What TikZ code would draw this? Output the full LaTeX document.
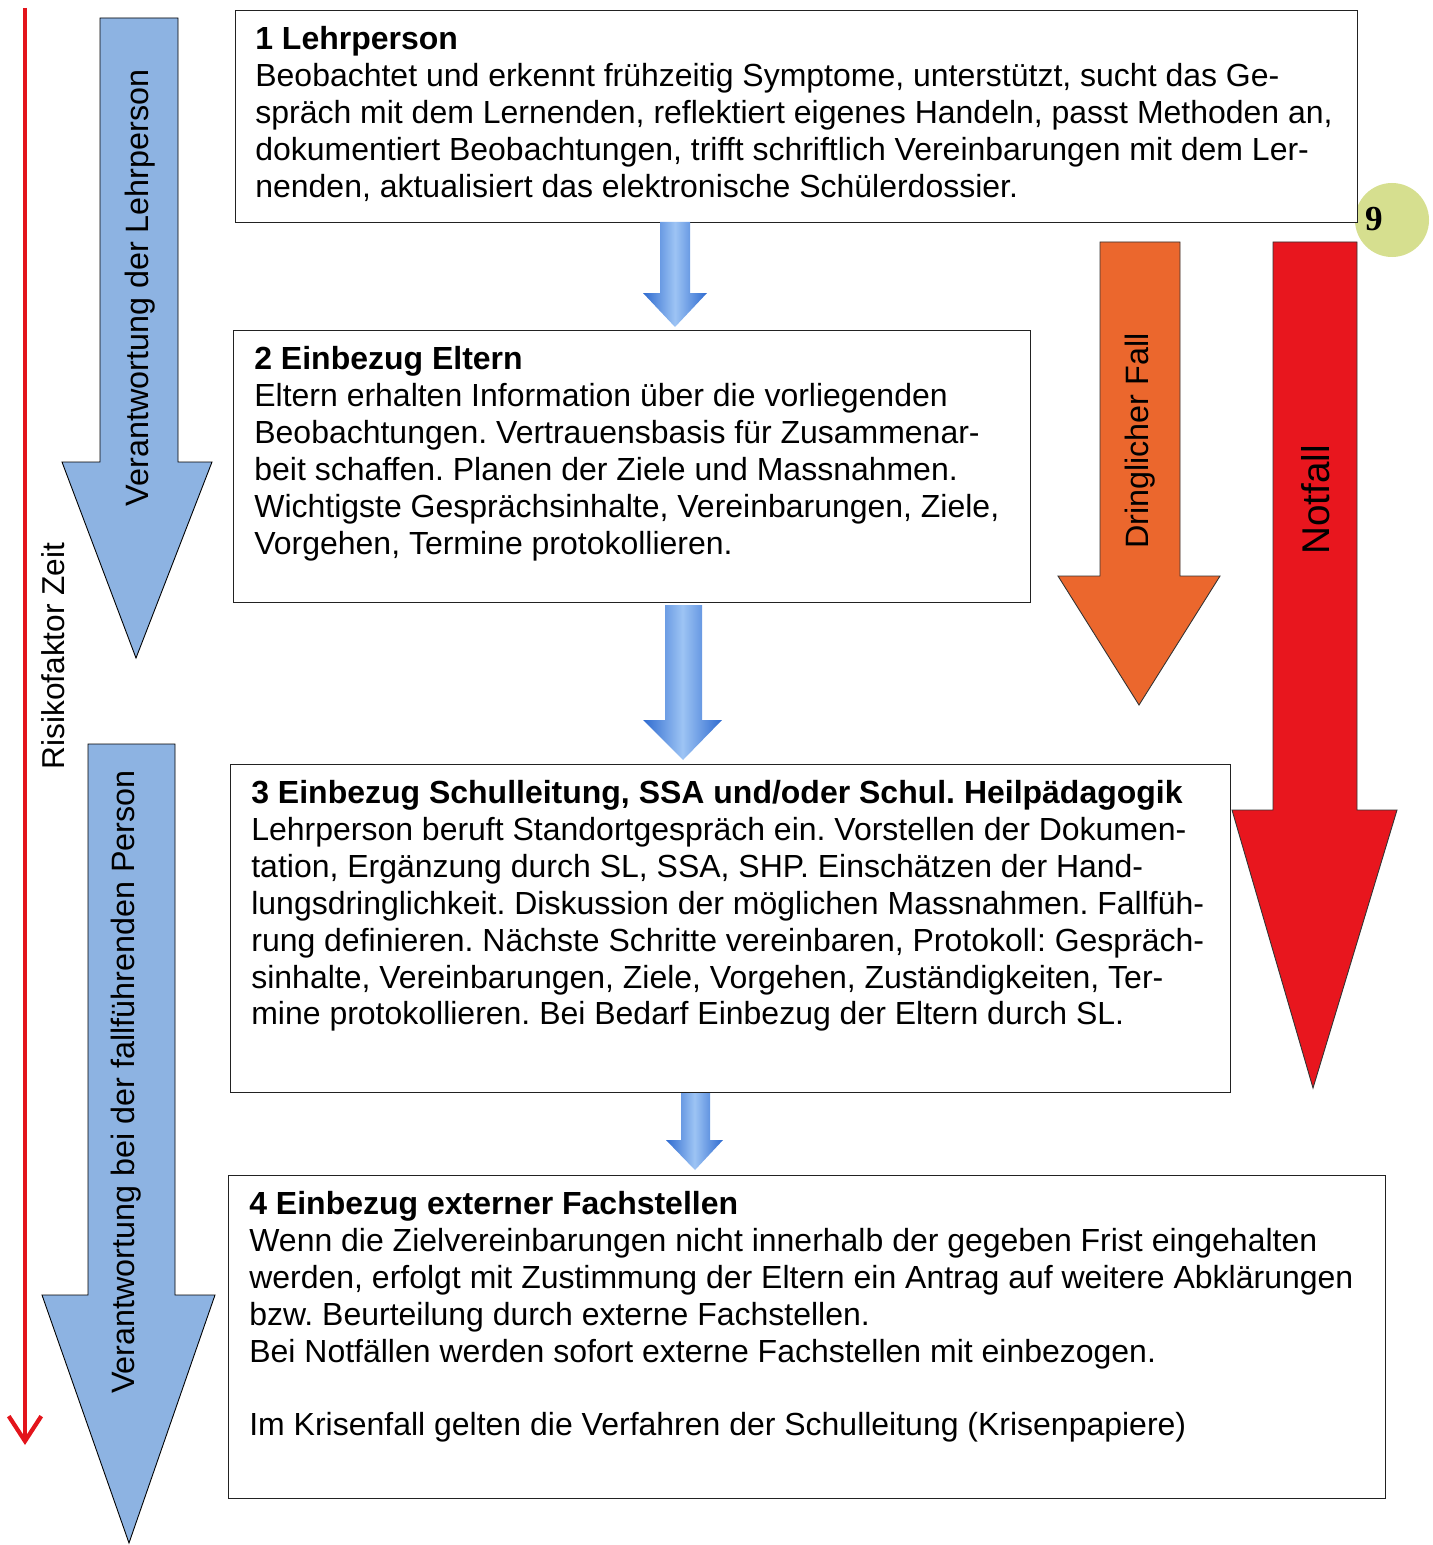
\documentclass[tikz,border=0pt]{standalone}
\usepackage{fontspec}
\setmainfont{Liberation Sans}
\newfontfamily\numfont{Liberation Serif}
\usepackage{tikz}
\usetikzlibrary{arrows.meta,positioning}
\frenchspacing
\definecolor{boxline}{HTML}{222222}
\definecolor{lightarrow}{HTML}{8DB3E2}
\definecolor{urgent}{HTML}{EB672D}
\definecolor{emergency}{HTML}{E8161E}
\definecolor{timeline}{HTML}{E3141B}
\definecolor{stepdark}{HTML}{2F6BD0}
\definecolor{steplight}{HTML}{9DC4F4}
\definecolor{badge}{HTML}{D6DF8F}
\tikzset{
  stagebox/.style={
    draw=boxline, line width=0.7pt, fill=white, anchor=north west, inner sep=0pt
  },
  stagetext/.style={
    anchor=north west, inner sep=0pt, align=left, font=\fontsize{18.2}{21}\selectfont
  },
  bigarrow/.style={draw=black, line width=0.5pt, fill=lightarrow},
  urgentarrow/.style={draw=black!80, line width=0.5pt, fill=urgent},
  emergencyarrow/.style={draw=black!80, line width=0.5pt, fill=emergency},
  steparrow/.style={left color=stepdark, right color=stepdark, middle color=steplight},
  sidelabel/.style={rotate=90, inner sep=0pt, font=\fontsize{18.4}{21}\selectfont},
  timearrow/.style={-{Straight Barb[length=5mm,width=6.5mm]}, line width=2.4pt, timeline},
}

\begin{document}
\begin{tikzpicture}[x=0.2mm, y=-0.2mm]
    \useasboundingbox (0,0) rectangle (1432,1545);

    \coordinate (ttop) at (25,8);
    \coordinate (tend) at (25,1445);
    \draw[timearrow] (ttop) -- (tend);
    \node[sidelabel, font=\fontsize{18}{21}\selectfont] (risk) at (53,656) {Risikofaktor Zeit};

    \draw[bigarrow] (100,18) -- (178,18) -- (178,462) -- (212,462) -- (136,658)
                    -- (62,462) -- (100,462) -- cycle;
    \draw[bigarrow] (88,744) -- (175,744) -- (175,1295) -- (215,1295) -- (129,1543)
                    -- (42,1295) -- (88,1295) -- cycle;
    \draw[urgentarrow] (1100,242) -- (1180,242) -- (1180,576) -- (1220,576) -- (1139,705)
                       -- (1058,576) -- (1100,576) -- cycle;
    \draw[emergencyarrow] (1273,242) -- (1357,242) -- (1357,810) -- (1397,810) -- (1313,1088)
                          -- (1232,810) -- (1273,810) -- cycle;

    \node[sidelabel] (resp1) at (140,288) {Verantwortung der Lehrperson};
    \node[sidelabel] (resp2) at (126,1082) {Verantwortung bei der fallführenden Person};
    \node[sidelabel] (urgentlbl) at (1140,441) {Dringlicher Fall};
    \node[sidelabel, font=\fontsize{22}{24}\selectfont] (emerglbl) at (1316,500) {Notfall};

    \node[circle, fill=badge, minimum size=14.8mm, inner sep=0pt] (badge9) at (1392,220) {};

    \node[stagebox, minimum width=224.4mm, minimum height=42.4mm] (box1) at (235,10) {};
    \node[stagebox, minimum width=159.4mm, minimum height=54.4mm] (box2) at (233,330) {};
    \node[stagebox, minimum width=200mm, minimum height=65.6mm] (box3) at (230,764) {};
    \node[stagebox, minimum width=231.4mm, minimum height=64.6mm] (box4) at (228,1175) {};

    \node[font=\numfont\bfseries\fontsize{20}{20}\selectfont] (num9) at (1374,219) {9};

    \node[stagetext, below right=3.2mm and 4mm of box1.north west] (text1) {%
      \textbf{1 Lehrperson}\\
      Beobachtet und erkennt frühzeitig Symptome, unterstützt, sucht das Ge-\\
      spräch mit dem Lernenden, reflektiert eigenes Handeln, passt Methoden an,\\
      dokumentiert Beobachtungen, trifft schriftlich Vereinbarungen mit dem Ler-\\
      nenden, aktualisiert das elektronische Schülerdossier.};
    \node[stagetext, below right=3.2mm and 4.2mm of box2.north west] (text2) {%
      \textbf{2 Einbezug Eltern}\\
      Eltern erhalten Information über die vorliegenden\\
      Beobachtungen. Vertrauensbasis für Zusammenar-\\
      beit schaffen. Planen der Ziele und Massnahmen.\\
      Wichtigste Gesprächsinhalte, Vereinbarungen, Ziele,\\
      Vorgehen, Termine protokollieren.};
    \node[stagetext, below right=3.2mm and 4.2mm of box3.north west] (text3) {%
      \textbf{3 Einbezug Schulleitung, SSA und/oder Schul. Heilpädagogik}\\
      Lehrperson beruft Standortgespräch ein. Vorstellen der Dokumen-\\
      tation, Ergänzung durch SL, SSA, SHP. Einschätzen der Hand-\\
      lungsdringlichkeit. Diskussion der möglichen Massnahmen. Fallfüh-\\
      rung definieren. Nächste Schritte vereinbaren, Protokoll: Gespräch-\\
      sinhalte, Vereinbarungen, Ziele, Vorgehen, Zuständigkeiten, Ter-\\
      mine protokollieren. Bei Bedarf Einbezug der Eltern durch SL.};
    \node[stagetext, below right=3.2mm and 4.2mm of box4.north west] (text4) {%
      \textbf{4 Einbezug externer Fachstellen}\\
      Wenn die Zielvereinbarungen nicht innerhalb der gegeben Frist eingehalten\\
      werden, erfolgt mit Zustimmung der Eltern ein Antrag auf weitere Abklärungen\\
      bzw. Beurteilung durch externe Fachstellen.\\
      Bei Notfällen werden sofort externe Fachstellen mit einbezogen.\\[21pt]
      Im Krisenfall gelten die Verfahren der Schulleitung (Krisenpapiere)};

    \shade[steparrow] (660,222) -- (690,222) -- (690,293) -- (707,293) -- (675,327)
                      -- (643,293) -- (660,293) -- cycle;
    \shade[steparrow] (665,605) -- (702,605) -- (702,720) -- (722,720) -- (683,760)
                      -- (643,720) -- (665,720) -- cycle;
    \shade[steparrow] (681,1093) -- (710,1093) -- (710,1140) -- (723,1140) -- (695,1170)
                      -- (666,1140) -- (681,1140) -- cycle;
\end{tikzpicture}
\end{document}
